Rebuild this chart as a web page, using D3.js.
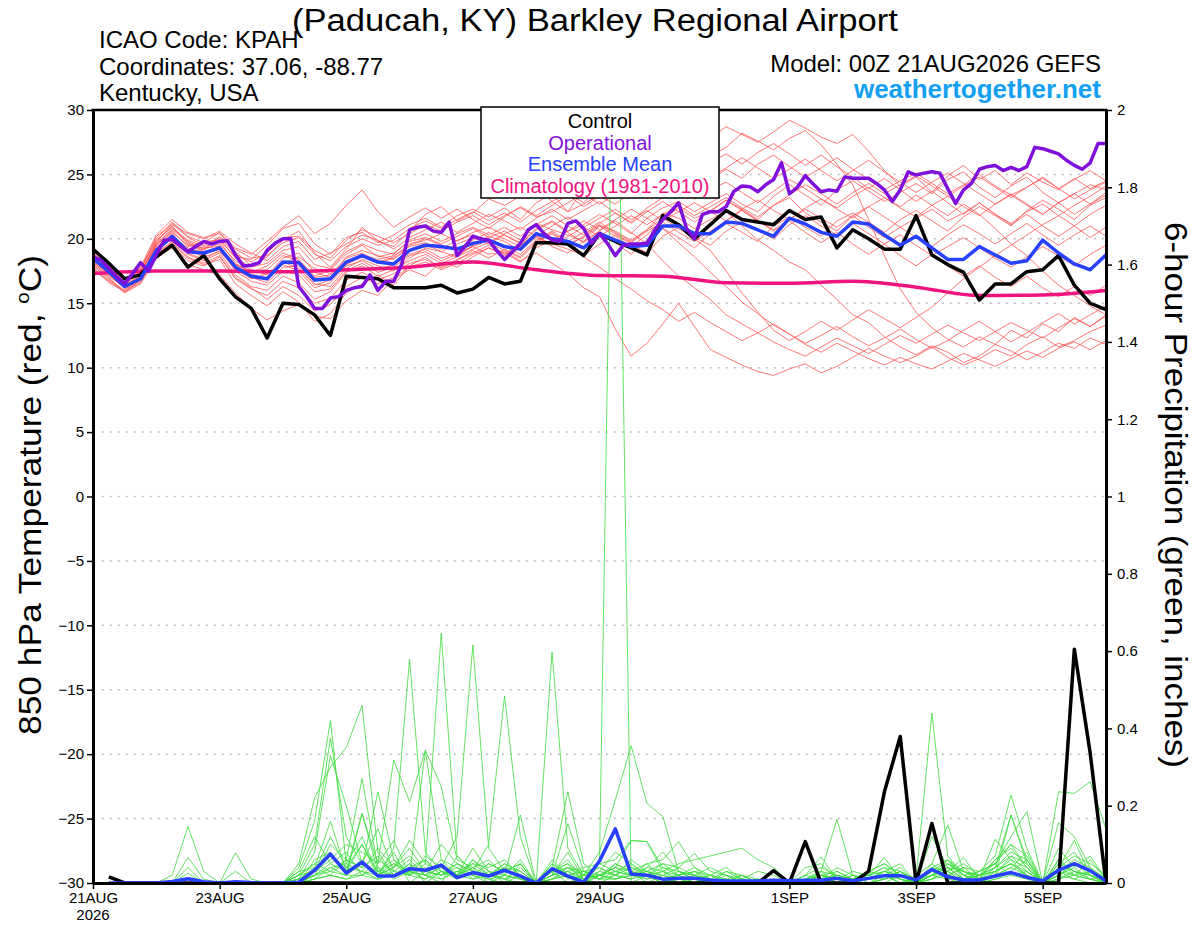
<!DOCTYPE html>
<html>
<head>
<meta charset="utf-8">
<script src="https://cdn.jsdelivr.net/npm/d3@7"></script>
<style>
body { margin: 0; background: #fff; }
text { font-family: "Liberation Sans", Arial, sans-serif; }
</style>
</head>
<body>
<svg id="chart" width="1200" height="927"></svg>
<script>
//Data
//Run start and forecast hours
var runStart = "2026-08-21T00:00:00Z";
var hours6 = d3.range(0, 385, 6);
var hours3 = d3.range(0, 385, 3);
var precipHours = d3.range(6, 385, 6);
var climHours = d3.range(0, 385, 24);

//Bottom axis ticks
var xTickDates = ["2026-08-21", "2026-08-23", "2026-08-25", "2026-08-27", "2026-08-29", "2026-09-01", "2026-09-03", "2026-09-05"];
var xTickLabels = ["21AUG", "23AUG", "25AUG", "27AUG", "29AUG", "1SEP", "3SEP", "5SEP"];
var tempTicks = [-30, -25, -20, -15, -10, -5, 0, 5, 10, 15, 20, 25, 30];
var gridTicks = [-25, -20, -15, -10, -5, 0, 5, 10, 15, 20, 25];
var precipTicks = [0, 0.2, 0.4, 0.6, 0.8, 1, 1.2, 1.4, 1.6, 1.8, 2];

//Control 850 hPa temperature, 6-hourly
var controlTemp = [
  19.2, 18.1, 16.9, 17.2, 18.6, 19.5, 17.8, 18.7, 16.9, 15.5, 14.6, 12.3, 15.0,
  14.9, 14.1, 12.5, 17.1, 17.0, 16.9, 16.2, 16.2, 16.2, 16.4, 15.8, 16.1, 17.0,
  16.5, 16.7, 19.7, 19.7, 19.6, 18.7, 20.4, 19.8, 19.3, 18.75, 21.8, 21.1, 20.0,
  21.1, 22.2, 21.5, 21.3, 21.1, 22.2, 21.5, 21.7, 19.3, 20.7, 20.0, 19.2, 19.2,
  21.8, 18.75, 18.0, 17.4, 15.25, 16.5, 16.5, 17.45, 17.6, 18.7, 16.4, 15.0, 14.5
];

//Operational 850 hPa temperature, 3-hourly
var operationalTemp = [
  18.6, 18.35, 17.7, 17.05, 16.5, 17.3, 18.15, 17.5, 18.75, 19.9, 19.95, 19.45, 19.0,
  19.4, 19.8, 19.6, 19.8, 19.85, 18.75, 17.9, 17.95, 18.15, 19.1, 19.65, 20.0, 20.0,
  16.3, 15.5, 14.6, 14.6, 15.4, 15.5, 16.0, 16.2, 16.3, 17.2, 16.0, 16.7, 16.7,
  18.0, 20.7, 20.9, 21.0, 20.6, 20.5, 21.3, 18.7, 19.4, 20.2, 20.0, 19.9, 19.1,
  18.4, 19.0, 19.65, 20.7, 21.1, 20.4, 19.9, 19.8, 21.2, 21.4, 20.8, 19.65, 20.4,
  19.65, 18.7, 19.5, 19.6, 19.6, 19.65, 20.7, 21.5, 22.1, 22.8, 20.8, 20.0, 21.9,
  22.1, 22.1, 22.5, 23.7, 24.1, 24.05, 23.65, 24.2, 24.6, 25.9, 23.5, 24.0, 24.9,
  24.25, 23.65, 23.8, 23.7, 24.8, 24.7, 24.7, 24.7, 24.3, 23.8, 22.9, 23.8, 25.2,
  24.95, 25.1, 25.2, 25.1, 23.9, 22.75, 23.8, 24.3, 25.4, 25.6, 25.7, 25.3, 25.55,
  25.3, 25.6, 27.1, 27.0, 26.8, 26.6, 26.1, 25.7, 25.4, 25.9, 27.4, 27.4
];

//Ensemble mean 850 hPa temperature, 6-hourly
var meanTemp = [
  18.5, 17.45, 16.3, 16.9, 19.1, 20.2, 19.0, 18.9, 19.3, 17.8, 17.1, 16.9, 18.2,
  18.15, 16.8, 16.9, 18.2, 18.7, 18.2, 18.05, 19.1, 19.5, 19.4, 19.2, 19.65, 19.9,
  19.4, 19.2, 20.4, 20.0, 19.8, 19.3, 20.4, 19.9, 19.4, 19.5, 21.0, 21.0, 20.4,
  20.4, 21.3, 21.2, 20.7, 20.2, 21.6, 21.15, 20.5, 20.2, 21.3, 21.15, 20.3, 19.5,
  20.2, 19.3, 18.4, 18.4, 19.4, 18.75, 18.1, 18.3, 19.9, 18.9, 18.05, 17.6, 18.75
];

//Climatology (1981-2010), daily
var climTemp = [17.3, 17.5, 17.5, 17.45, 17.6, 17.8, 18.2, 17.6, 17.15, 17.1, 16.6, 16.55, 16.7, 16.25, 15.6, 15.65, 16.0];

//Ensemble members 850 hPa temperature, 6-hourly
var tempMembers = [
  [18.2, 17.2, 16.2, 17.0, 19.5, 20.6, 19.4, 19.8, 19.9, 18.6, 18.4, 19.5, 20.8,
   21.2, 19.6, 18.8, 20.1, 20.5, 19.7, 20.3, 21.1, 21.6, 20.9, 21.8, 22.3, 21.7,
   22.4, 21.5, 22.8, 23.5, 22.1, 23.9, 24.6, 23.8, 25.2, 24.4, 26.1, 27.3, 26.5,
   27.8, 28.7, 28.1, 27.5, 28.3, 29.2, 28.6, 27.9, 27.4, 28.1, 26.8, 25.3, 24.1,
   24.8, 23.6, 24.9, 25.7, 24.6, 25.3, 24.2, 25.1, 24.4, 23.8, 24.7, 23.9, 24.5],
  [18.8, 17.6, 16.5, 17.3, 19.8, 21.0, 19.7, 19.1, 20.2, 19.0, 17.9, 18.6, 19.9,
   20.6, 18.9, 17.8, 19.2, 20.9, 19.8, 19.4, 20.6, 21.9, 22.5, 21.4, 22.0, 23.1,
   22.6, 23.3, 24.0, 22.9, 23.6, 22.8, 24.1, 25.3, 24.7, 26.0, 26.8, 25.9, 27.2,
   26.4, 27.1, 28.2, 27.6, 26.9, 27.8, 28.4, 27.3, 25.8, 24.2, 21.5, 18.7, 16.1,
   14.3, 13.1, 12.2, 11.6, 12.4, 11.8, 12.9, 12.3, 13.4, 12.8, 13.9, 13.2, 14.1],
  [17.9, 16.9, 15.9, 16.6, 18.7, 19.6, 18.5, 18.0, 18.4, 16.5, 15.6, 14.8, 15.9,
   15.1, 13.6, 14.2, 15.8, 16.5, 17.2, 16.4, 17.9, 18.6, 17.7, 18.3, 19.1, 18.5,
   19.2, 18.6, 19.8, 20.5, 19.6, 20.1, 21.0, 20.2, 19.4, 20.3, 21.5, 22.4, 21.6,
   22.1, 23.0, 22.3, 21.5, 22.6, 23.2, 22.0, 21.3, 20.6, 21.8, 22.5, 21.7, 20.9,
   21.6, 22.3, 21.4, 22.0, 22.8, 21.9, 21.2, 22.1, 22.7, 21.8, 21.0, 21.9, 22.6],
  [18.4, 17.3, 16.1, 16.8, 19.0, 20.1, 19.2, 18.7, 19.5, 17.6, 16.9, 17.3, 18.0,
   17.5, 16.2, 16.6, 17.9, 18.3, 17.6, 18.0, 18.8, 19.2, 18.5, 18.9, 19.4, 18.8,
   19.0, 18.3, 18.9, 18.1, 17.3, 16.2, 15.5, 13.0, 10.9, 11.9, 13.4, 15.0, 13.2,
   11.4, 10.8, 10.2, 9.7, 9.4, 9.9, 10.3, 9.6, 10.1, 10.8, 11.5, 10.9, 10.4,
   10.9, 11.6, 10.8, 10.2, 10.7, 11.4, 10.9, 11.8, 12.4, 11.6, 12.1, 12.8, 13.3],
  [19.1, 17.9, 16.7, 17.4, 19.6, 20.8, 19.9, 19.4, 19.8, 18.1, 17.4, 17.9, 18.9,
   18.4, 17.1, 17.6, 18.8, 19.5, 18.6, 18.9, 19.8, 20.1, 19.6, 20.2, 20.8, 20.1,
   20.6, 19.9, 21.2, 20.7, 20.3, 19.8, 21.0, 20.6, 19.9, 20.7, 22.0, 21.6, 20.8,
   21.5, 22.1, 21.0, 19.9, 19.1, 18.2, 17.6, 16.4, 15.3, 14.1, 13.5, 12.4, 11.6,
   11.0, 11.7, 11.2, 10.4, 10.9, 11.8, 11.3, 10.6, 11.2, 11.9, 11.5, 12.3, 11.8],
  [18.6, 17.5, 16.4, 17.1, 19.3, 20.4, 19.0, 19.2, 19.6, 18.3, 17.6, 17.2, 18.5,
   18.9, 17.4, 17.0, 18.6, 19.1, 18.7, 18.4, 19.5, 19.9, 20.4, 19.8, 20.5, 20.9,
   20.3, 19.7, 20.8, 21.4, 20.6, 21.1, 21.9, 21.2, 20.4, 21.6, 22.4, 22.9, 22.1,
   22.8, 23.5, 22.7, 22.1, 23.3, 24.2, 23.4, 22.6, 23.8, 24.5, 23.7, 22.9, 23.6,
   24.3, 23.5, 24.6, 25.2, 24.0, 23.2, 24.1, 24.8, 23.6, 22.8, 23.5, 24.2, 23.8],
  [18.0, 17.0, 15.8, 16.5, 18.5, 19.3, 18.0, 17.6, 17.2, 15.8, 14.6, 13.7, 14.4,
   14.9, 14.0, 13.8, 15.2, 16.0, 15.6, 16.9, 17.6, 17.1, 18.2, 17.8, 18.6, 19.3,
   18.7, 19.5, 20.2, 19.4, 18.9, 19.8, 20.6, 19.7, 18.8, 19.9, 20.8, 20.1, 19.3,
   20.4, 21.2, 20.5, 19.8, 21.0, 21.7, 20.9, 20.2, 21.4, 22.0, 21.3, 20.5, 21.5,
   22.2, 21.4, 20.6, 21.7, 22.5, 21.8, 21.0, 22.2, 23.0, 22.3, 21.5, 22.6, 23.2],
  [18.9, 17.7, 16.6, 17.5, 20.0, 21.3, 20.2, 19.7, 20.5, 19.3, 18.8, 19.8, 20.9,
   21.8, 20.4, 21.2, 22.6, 23.8, 22.1, 20.9, 21.7, 22.4, 21.6, 22.3, 21.5, 20.8,
   21.7, 22.5, 21.8, 22.6, 23.4, 22.5, 23.3, 22.7, 23.6, 24.5, 23.7, 24.4, 25.2,
   24.6, 25.4, 24.7, 25.8, 26.5, 25.6, 24.8, 25.5, 26.3, 25.4, 24.6, 23.8, 24.5,
   25.1, 24.3, 23.5, 24.2, 25.0, 24.1, 23.4, 24.0, 24.8, 23.9, 23.1, 23.8, 24.4],
  [17.7, 16.8, 16.0, 16.9, 18.9, 19.8, 18.8, 18.3, 18.9, 17.2, 16.3, 16.0, 17.1,
   16.6, 15.3, 15.9, 17.4, 17.9, 17.1, 17.6, 18.3, 18.8, 18.1, 18.6, 19.2, 19.7,
   19.1, 18.5, 19.7, 20.4, 19.5, 18.6, 17.8, 16.9, 16.1, 15.2, 14.5, 13.6, 14.3,
   13.5, 12.8, 12.1, 12.7, 13.4, 12.6, 11.9, 12.5, 13.2, 12.4, 11.7, 12.3, 13.0,
   12.2, 11.5, 12.1, 12.9, 13.6, 12.8, 12.0, 12.7, 13.5, 14.2, 13.4, 14.1, 14.8],
  [18.3, 17.4, 16.3, 17.2, 19.2, 20.3, 19.1, 18.6, 19.0, 17.9, 17.0, 16.6, 17.8,
   17.9, 16.5, 16.3, 17.7, 18.4, 17.9, 17.5, 18.5, 19.3, 19.0, 18.6, 19.5, 20.2,
   19.8, 19.1, 20.1, 19.6, 19.2, 18.7, 19.6, 20.3, 19.6, 18.9, 20.2, 20.9, 20.1,
   19.5, 20.6, 21.3, 20.7, 20.0, 21.1, 21.8, 21.0, 20.3, 21.2, 20.4, 19.6, 20.3,
   19.5, 18.7, 19.4, 20.1, 19.3, 18.5, 17.8, 18.6, 19.4, 18.7, 17.9, 18.8, 19.5],
  [19.3, 18.0, 16.8, 17.6, 20.2, 21.1, 20.4, 20.0, 20.6, 19.6, 18.9, 18.3, 19.4,
   19.8, 18.4, 18.9, 19.6, 20.3, 19.9, 19.2, 20.1, 20.7, 21.3, 20.5, 21.2, 21.9,
   21.4, 20.7, 21.6, 22.3, 21.5, 22.2, 22.9, 22.0, 21.3, 22.4, 23.2, 23.9, 23.1,
   23.8, 24.4, 23.6, 22.8, 23.7, 24.6, 23.9, 23.1, 22.4, 23.3, 24.0, 23.2, 22.5,
   23.4, 22.6, 21.8, 22.7, 21.9, 20.8, 19.6, 18.7, 17.5, 16.4, 15.6, 14.8, 14.1],
  [17.6, 16.7, 15.9, 16.7, 18.6, 19.5, 18.3, 17.9, 18.6, 16.9, 16.1, 15.6, 16.7,
   16.2, 15.0, 15.4, 16.8, 17.4, 16.8, 17.3, 18.1, 18.4, 17.8, 18.4, 18.9, 19.5,
   18.9, 18.2, 19.3, 19.9, 20.6, 21.4, 20.7, 21.5, 22.3, 21.6, 20.8, 19.7, 18.6,
   17.4, 16.3, 15.1, 14.2, 13.3, 12.6, 11.8, 11.2, 11.9, 11.3, 10.7, 10.2, 10.8,
   10.3, 9.9, 10.5, 11.1, 10.6, 10.1, 10.7, 11.3, 10.8, 11.5, 12.0, 11.4, 12.1],
  [18.7, 17.8, 16.9, 17.7, 19.9, 20.9, 19.6, 19.0, 19.3, 18.0, 17.3, 16.8, 18.1,
   18.6, 17.7, 17.3, 18.2, 18.8, 18.4, 18.7, 19.4, 19.7, 19.2, 19.9, 20.3, 19.7,
   20.4, 20.9, 20.2, 21.0, 21.7, 20.9, 21.6, 22.3, 21.5, 22.2, 21.4, 22.1, 22.8,
   22.1, 21.4, 22.3, 23.0, 22.2, 21.5, 22.4, 23.1, 22.3, 21.6, 22.5, 23.2, 22.4,
   21.7, 22.6, 23.3, 22.5, 21.8, 22.7, 23.4, 22.6, 21.9, 22.8, 23.5, 22.7, 23.4],
  [18.1, 17.1, 16.2, 16.9, 19.1, 20.0, 18.9, 18.4, 19.1, 17.5, 16.7, 16.4, 17.5,
   17.2, 15.9, 16.1, 17.5, 18.1, 17.4, 17.8, 18.7, 19.0, 18.3, 18.8, 19.4, 19.9,
   19.4, 18.8, 19.9, 20.6, 19.8, 20.5, 21.3, 20.5, 19.8, 20.7, 21.6, 20.8, 20.0,
   19.1, 17.5, 15.8, 14.3, 12.9, 12.1, 12.8, 13.6, 12.9, 13.7, 14.5, 13.8, 13.1,
   13.9, 14.7, 15.8, 16.9, 17.8, 18.7, 19.5, 20.3, 21.1, 21.8, 22.6, 23.3, 24.1],
  [19.0, 17.8, 16.6, 17.3, 19.7, 21.2, 20.1, 19.5, 20.1, 18.8, 18.2, 18.9, 20.1,
   20.2, 19.1, 18.5, 19.9, 20.7, 20.2, 19.7, 20.4, 21.1, 20.6, 21.3, 21.8, 21.1,
   21.8, 22.4, 21.7, 22.1, 22.8, 23.5, 22.7, 23.4, 24.1, 23.3, 24.0, 24.7, 24.0,
   24.8, 25.5, 26.3, 25.5, 24.7, 25.4, 26.2, 25.3, 24.5, 25.3, 26.1, 25.2, 24.4,
   23.6, 24.4, 25.1, 24.3, 23.5, 22.7, 23.5, 22.7, 21.9, 22.8, 21.9, 22.7, 23.6],
  [18.5, 17.4, 16.4, 17.1, 19.4, 20.2, 19.3, 18.8, 19.2, 17.7, 17.0, 16.9, 18.2,
   17.7, 16.4, 16.8, 18.0, 18.6, 18.1, 18.5, 19.2, 19.6, 19.0, 19.6, 20.1, 19.6,
   20.3, 19.6, 20.7, 21.3, 20.5, 19.7, 20.6, 21.4, 20.5, 19.6, 18.3, 17.1, 16.2,
   15.3, 14.1, 13.4, 12.7, 12.0, 11.4, 10.9, 11.6, 12.3, 11.7, 11.1, 11.8, 12.5,
   11.9, 12.6, 13.3, 12.7, 12.1, 12.8, 13.5, 12.9, 12.3, 13.1, 13.8, 13.2, 14.0],
  [18.2, 17.3, 16.6, 17.3, 19.5, 20.5, 19.5, 19.3, 19.4, 18.0, 17.5, 17.6, 18.7,
   18.3, 17.0, 17.2, 18.5, 18.9, 18.2, 18.6, 19.6, 20.0, 19.5, 19.1, 19.9, 20.5,
   20.0, 19.4, 20.5, 19.9, 19.5, 20.2, 21.1, 20.4, 19.7, 20.6, 21.3, 20.5, 19.8,
   20.6, 21.4, 22.2, 21.4, 20.7, 21.5, 22.3, 21.6, 20.9, 21.8, 20.9, 20.1, 20.9,
   20.1, 19.4, 20.3, 21.1, 20.4, 19.6, 20.4, 21.2, 20.3, 19.5, 20.3, 21.0, 20.2],
  [17.8, 16.6, 15.9, 16.8, 18.8, 19.7, 18.6, 18.1, 18.7, 17.0, 16.2, 15.3, 16.3,
   15.6, 14.4, 14.9, 16.3, 17.0, 16.5, 17.0, 17.8, 18.2, 17.6, 18.1, 18.8, 19.3,
   18.8, 19.6, 20.3, 19.5, 20.2, 20.9, 20.2, 21.0, 21.8, 21.1, 21.9, 22.6, 21.8,
   22.5, 23.2, 22.4, 21.7, 22.6, 23.4, 24.2, 23.5, 22.7, 23.6, 24.3, 23.5, 24.2,
   24.9, 24.1, 23.3, 24.1, 24.8, 24.0, 23.2, 24.0, 24.7, 23.9, 24.6, 25.3, 24.5],
  [18.9, 17.6, 16.5, 17.4, 19.6, 20.7, 19.8, 19.2, 20.0, 18.5, 17.8, 18.1, 19.1,
   19.4, 18.0, 17.7, 19.0, 19.6, 19.1, 18.8, 19.9, 20.4, 19.8, 20.4, 20.9, 20.3,
   20.9, 20.2, 21.1, 21.8, 21.0, 20.3, 21.2, 22.0, 21.2, 22.1, 22.9, 22.1, 21.3,
   22.2, 23.0, 22.2, 21.4, 20.6, 21.4, 20.5, 19.7, 20.5, 19.6, 18.8, 19.6, 18.7,
   17.9, 18.8, 17.9, 17.1, 17.9, 17.0, 16.3, 17.1, 16.2, 15.5, 16.3, 15.6, 16.4],
  [19.2, 18.1, 16.9, 17.8, 20.3, 21.5, 20.5, 20.1, 20.4, 19.2, 18.5, 18.7, 19.7,
   20.1, 18.8, 18.3, 19.4, 20.0, 19.5, 19.9, 20.8, 21.4, 20.8, 21.5, 22.1, 21.4,
   22.0, 21.3, 22.2, 22.9, 22.1, 22.7, 23.4, 24.3, 23.5, 24.2, 25.0, 24.2, 25.1,
   25.9, 26.6, 25.8, 26.7, 27.4, 26.6, 25.7, 26.5, 25.6, 24.8, 23.9, 24.7, 23.8,
   22.9, 23.7, 22.8, 21.9, 22.8, 21.9, 21.1, 21.9, 21.0, 20.2, 21.0, 20.1, 20.9]
];

//Control 6-hour precipitation (inches), from hour 6
var controlPrecip = [
  0.016, 0, 0, 0, 0, 0, 0, 0, 0, 0, 0, 0, 0, 0, 0, 0,
  0, 0, 0, 0, 0, 0, 0, 0, 0, 0, 0, 0, 0, 0, 0, 0,
  0, 0, 0, 0, 0, 0, 0, 0, 0, 0, 0.032, 0, 0.107, 0, 0, 0,
  0.03, 0.236, 0.379, 0, 0.154, 0, 0, 0, 0, 0, 0, 0, 0, 0.605, 0.336, 0
];

//Ensemble mean 6-hour precipitation (inches), from hour 6
var meanPrecip = [
  0, 0, 0, 0, 0.004, 0.011, 0.003, 0, 0.003, 0.001, 0, 0, 0.002, 0.033, 0.075, 0.026,
  0.054, 0.018, 0.018, 0.037, 0.033, 0.046, 0.014, 0.027, 0.018, 0.033, 0.018, 0, 0.037, 0.018, 0.002, 0.057,
  0.14, 0.023, 0.02, 0.01, 0.012, 0.012, 0.008, 0.005, 0.005, 0.005, 0.007, 0.006, 0.007, 0.007, 0.012, 0.006,
  0.012, 0.019, 0.019, 0.008, 0.035, 0.016, 0.008, 0.008, 0.018, 0.027, 0.015, 0.005, 0.033, 0.05, 0.032, 0.005
];

//Ensemble members 6-hour precipitation (inches), from hour 6
var precipMembers = [
  [0, 0, 0, 0, 0.02, 0.146, 0.03, 0, 0, 0, 0, 0, 0.04, 0.16, 0.42, 0.05,
   0.12, 0.02, 0.08, 0, 0.03, 0.1, 0.05, 0.02, 0, 0.04, 0.01, 0, 0.06, 0.02, 0, 0.03,
   0.08, 0.05, 0.02, 0, 0.01, 0, 0, 0.03, 0.01, 0, 0, 0, 0.02, 0.068, 0.01, 0,
   0, 0.02, 0, 0, 0.05, 0.02, 0, 0.01, 0.04, 0.07, 0.03, 0, 0.02, 0.05, 0.03, 0],
  [0, 0, 0, 0, 0, 0.066, 0.01, 0, 0, 0, 0, 0, 0.02, 0.1, 0.375, 0.12,
   0.05, 0.14, 0.03, 0.06, 0.02, 0, 0.07, 0.03, 0.01, 0, 0.05, 0, 0.02, 0.08, 0.01, 0.02,
   0.04, 0.11, 0.107, 0.03, 0, 0.02, 0, 0, 0, 0.01, 0, 0, 0, 0.03, 0.165, 0.02,
   0, 0.01, 0.03, 0, 0.02, 0.06, 0.01, 0, 0.02, 0.176, 0.05, 0, 0.04, 0.11, 0.02, 0],
  [0, 0, 0, 0, 0, 0.04, 0, 0, 0, 0, 0, 0, 0.05, 0.22, 0.3, 0.35,
   0.46, 0.08, 0.02, 0.05, 0, 0.03, 0.01, 0.06, 0.02, 0.01, 0, 0, 0.03, 0, 0.02, 0.01,
   0.02, 0.01, 0.04, 0.08, 0.03, 0.01, 0, 0, 0, 0, 0, 0.01, 0, 0, 0.02, 0.01,
   0.02, 0.066, 0.01, 0, 0.04, 0.03, 0, 0, 0.01, 0.03, 0.06, 0, 0.01, 0.02, 0.06, 0.01],
  [0, 0, 0, 0, 0, 0.025, 0, 0, 0, 0, 0, 0, 0.01, 0.04, 0.16, 0.03,
   0.1, 0.02, 0.09, 0.579, 0.08, 0.03, 0.02, 0.04, 0, 0.02, 0.06, 0, 0.01, 0.03, 0, 0.02,
   0.01, 0.03, 0, 0.02, 0.04, 0.02, 0.01, 0, 0, 0, 0, 0, 0.01, 0.03, 0, 0,
   0, 0.01, 0.03, 0.01, 0.44, 0.07, 0.02, 0, 0.03, 0.05, 0.02, 0, 0.03, 0.01, 0, 0],
  [0, 0, 0, 0, 0, 0, 0, 0, 0.078, 0.01, 0, 0, 0, 0.06, 0.08, 0.02,
   0.18, 0.05, 0.11, 0.02, 0.343, 0.06, 0.02, 0.09, 0.03, 0, 0.02, 0, 0.04, 0.01, 0.02, 0.05,
   0.03, 0.02, 0.05, 0.01, 0, 0, 0.02, 0.04, 0.01, 0, 0, 0, 0, 0.01, 0.04, 0.02,
   0.01, 0.03, 0.05, 0, 0.12, 0.04, 0.01, 0.02, 0.06, 0.1, 0.04, 0, 0.05, 0.08, 0.02, 0],
  [0, 0, 0, 0, 0, 0.01, 0, 0, 0.03, 0, 0, 0, 0.02, 0.03, 0.12, 0.04,
   0.03, 0.09, 0.04, 0.11, 0.05, 0.646, 0.07, 0.03, 0.02, 0.05, 0.02, 0, 0.03, 0.06, 0.01, 0,
   0.02, 0.04, 0.02, 0.05, 0.02, 0, 0.01, 0, 0.02, 0, 0, 0, 0.01, 0, 0.03, 0.01,
   0.03, 0.02, 0, 0.02, 0.05, 0.15, 0.03, 0.01, 0.02, 0.04, 0.08, 0, 0.02, 0.04, 0.07, 0.01],
  [0, 0, 0, 0, 0, 0.01, 0, 0, 0, 0, 0, 0, 0.03, 0.12, 0.05, 0.08,
   0.02, 0.06, 0.03, 0.02, 0.07, 0.04, 0.12, 0.616, 0.09, 0.03, 0.05, 0, 0.02, 0.04, 0.01, 0.02,
   0.05, 0.03, 0.01, 0.02, 0.01, 0.03, 0, 0, 0, 0.01, 0, 0, 0, 0.02, 0.01, 0,
   0, 0, 0.02, 0.01, 0.03, 0.02, 0.04, 0.01, 0.113, 0.06, 0.02, 0, 0.06, 0.03, 0.01, 0.02],
  [0, 0, 0, 0, 0, 0, 0, 0, 0, 0, 0, 0, 0.01, 0.08, 0.33, 0.2,
   0.05, 0.02, 0.04, 0.09, 0.03, 0.02, 0.05, 0.03, 0.1, 0.484, 0.12, 0, 0.05, 0.02, 0.03, 0.01,
   0.01, 0.02, 0.03, 0.01, 0.02, 0.04, 0.01, 0, 0, 0, 0, 0, 0.02, 0.01, 0, 0.02,
   0.01, 0.02, 0, 0.01, 0.02, 0.05, 0.02, 0.03, 0.07, 0.228, 0.09, 0, 0.03, 0.06, 0.04, 0.01],
  [0, 0, 0, 0, 0, 0, 0, 0, 0, 0, 0, 0, 0, 0.02, 0.1, 0.06,
   0.27, 0.04, 0.02, 0.03, 0.01, 0.05, 0.02, 0.04, 0.06, 0.02, 0.176, 0, 0.03, 0.05, 0, 0.02,
   0.03, 0.05, 0.02, 0, 0.03, 0.01, 0.02, 0, 0.01, 0, 0, 0, 0, 0.01, 0.02, 0,
   0, 0.01, 0.02, 0, 0.01, 0.03, 0.05, 0.02, 0.04, 0.176, 0.06, 0, 0.02, 0.01, 0.03, 0],
  [0, 0, 0, 0, 0, 0, 0, 0, 0, 0, 0, 0, 0.02, 0.05, 0.07, 0.03,
   0.18, 0.03, 0.05, 0.02, 0.04, 0.01, 0.03, 0.02, 0.05, 0.03, 0.02, 0, 0.598, 0.09, 0.02, 0.04,
   0.02, 0.06, 0.03, 0.02, 0, 0.01, 0, 0.02, 0, 0, 0, 0, 0, 0, 0.01, 0.03,
   0.02, 0.04, 0.01, 0, 0.03, 0.02, 0.01, 0.03, 0.05, 0.12, 0.185, 0, 0.04, 0.07, 0.05, 0.02],
  [0, 0, 0, 0, 0, 0, 0, 0, 0, 0, 0, 0, 0.03, 0.04, 0.02, 0.06,
   0.04, 0.236, 0.06, 0.03, 0.02, 0.04, 0.01, 0.03, 0.02, 0.05, 0.03, 0, 0.04, 0.236, 0.05, 0.02,
   0.04, 0.02, 0.01, 0.03, 0.02, 0, 0.01, 0.03, 0.02, 0, 0, 0, 0.01, 0.02, 0, 0,
   0.03, 0.05, 0.02, 0, 0.02, 0.04, 0.03, 0.01, 0.06, 0.09, 0.04, 0, 0.236, 0.232, 0.262, 0.14],
  [0, 0, 0, 0, 0, 0, 0, 0, 0, 0, 0, 0, 0.01, 0.03, 0.06, 0.1,
   0.08, 0.05, 0.318, 0.21, 0.343, 0.25, 0.06, 0.04, 0.02, 0.03, 0.05, 0, 0.02, 0.153, 0.03, 0.01,
   0.05, 0.03, 0.02, 0.04, 0.03, 0.02, 0.04, 0.02, 0, 0.01, 0, 0, 0, 0.01, 0.02, 0.01,
   0.02, 0.03, 0.01, 0, 0.01, 0.05, 0.02, 0.01, 0.03, 0.05, 0.03, 0, 0.156, 0.12, 0.04, 0.01],
  [0, 0, 0, 0, 0, 0, 0, 0, 0, 0, 0, 0, 0, 0.01, 0.02, 0.01,
   0.03, 0.01, 0.02, 0.05, 0.02, 0.01, 0.03, 0.02, 0.01, 0.02, 0.01, 0, 0.01, 0.02, 0, 0.05,
   2.6, 0, 0.02, 0.01, 0, 0, 0, 0, 0, 0, 0, 0, 0, 0, 0, 0,
   0, 0, 0, 0, 0.02, 0.01, 0, 0, 0.01, 0.02, 0.01, 0, 0.01, 0.03, 0.02, 0],
  [0, 0, 0, 0, 0, 0, 0, 0, 0, 0, 0, 0, 0, 0.02, 0.05, 0.03,
   0.06, 0.02, 0.04, 0.07, 0.03, 0.05, 0.02, 0.06, 0.03, 0.01, 0.04, 0, 0.03, 0.05, 0.02, 0.08,
   0.215, 0.355, 0.206, 0.172, 0.03, 0.02, 0, 0.01, 0, 0, 0, 0, 0, 0.02, 0.01, 0,
   0.01, 0.02, 0.04, 0, 0.03, 0.06, 0.02, 0, 0.02, 0.04, 0.02, 0, 0.03, 0.05, 0.02, 0.01],
  [0, 0, 0, 0, 0, 0, 0, 0, 0, 0, 0, 0, 0, 0.01, 0.04, 0.02,
   0.02, 0.04, 0.01, 0.03, 0.06, 0.02, 0.04, 0.01, 0.03, 0.02, 0.01, 0, 0.02, 0.03, 0.04, 0.05,
   0.06, 0.11, 0.107, 0.04, 0.02, 0.03, 0.01, 0, 0.02, 0, 0.01, 0, 0, 0.01, 0, 0.02,
   0.01, 0.03, 0.02, 0, 0.04, 0.03, 0.066, 0.01, 0.02, 0.07, 0.05, 0, 0.06, 0.02, 0.01, 0],
  [0, 0, 0, 0, 0, 0, 0, 0, 0, 0, 0, 0, 0, 0.03, 0.07, 0.04,
   0.1, 0.03, 0.06, 0.02, 0.05, 0.03, 0.02, 0.05, 0.04, 0.06, 0.02, 0, 0.01, 0.04, 0.03, 0.02,
   0.04, 0.03, 0.05, 0.06, 0.107, 0.04, 0.02, 0.01, 0, 0, 0.01, 0, 0, 0.02, 0.03, 0.01,
   0.02, 0.01, 0.03, 0, 0.02, 0.04, 0.01, 0.02, 0.03, 0.06, 0.04, 0, 0.05, 0.03, 0.02, 0],
  [0, 0, 0, 0, 0, 0, 0, 0, 0, 0, 0, 0, 0.02, 0.05, 0.03, 0.06,
   0.04, 0.07, 0.02, 0.04, 0.06, 0.02, 0.03, 0.05, 0.02, 0.04, 0.03, 0, 0.05, 0.02, 0.01, 0.03,
   0.02, 0.04, 0.03, 0.05, 0.04, 0.077, 0.03, 0.02, 0.01, 0, 0, 0, 0.04, 0.05, 0.01, 0,
   0.01, 0.03, 0.02, 0, 0.01, 0.02, 0.04, 0.03, 0.05, 0.02, 0.03, 0, 0.09, 0.04, 0.01, 0],
  [0, 0, 0, 0, 0, 0, 0, 0, 0, 0, 0, 0, 0, 0.02, 0.04, 0.05,
   0.03, 0.02, 0.05, 0.03, 0.02, 0.06, 0.04, 0.02, 0.05, 0.03, 0.02, 0, 0.03, 0.04, 0.02, 0.01,
   0.03, 0.02, 0.04, 0.03, 0.05, 0.06, 0.07, 0.08, 0.09, 0.06, 0.04, 0, 0.01, 0.03, 0.02, 0.01,
   0.02, 0.04, 0.03, 0, 0.02, 0.05, 0.03, 0.02, 0.04, 0.08, 0.06, 0, 0.03, 0.02, 0.01, 0],
  [0, 0, 0, 0, 0, 0, 0, 0, 0, 0, 0, 0, 0.01, 0.02, 0.03, 0.02,
   0.05, 0.03, 0.02, 0.04, 0.03, 0.02, 0.05, 0.03, 0.02, 0.04, 0.01, 0, 0.02, 0.03, 0.01, 0.02,
   0.01, 0.02, 0.03, 0.01, 0.02, 0.03, 0.02, 0.01, 0.02, 0.01, 0, 0, 0.02, 0.04, 0.02, 0.01,
   0.03, 0.05, 0.02, 0, 0.04, 0.06, 0.03, 0.02, 0.05, 0.1, 0.07, 0, 0.02, 0.05, 0.03, 0],
  [0, 0, 0, 0, 0, 0, 0, 0, 0, 0, 0, 0, 0, 0.01, 0.02, 0.01,
   0.02, 0.01, 0.03, 0.02, 0.01, 0.03, 0.02, 0.01, 0.02, 0.01, 0.02, 0, 0.01, 0.02, 0.03, 0.04,
   0.02, 0.01, 0.02, 0.03, 0.01, 0.02, 0.01, 0, 0.01, 0.03, 0.02, 0, 0.01, 0.02, 0.01, 0,
   0.01, 0.02, 0.01, 0, 0.02, 0.03, 0.01, 0.02, 0.03, 0.05, 0.02, 0, 0.04, 0.02, 0.03, 0]
];

//Header texts
var titleText = "(Paducah, KY) Barkley Regional Airport";
var infoLines = ["ICAO Code: KPAH", "Coordinates: 37.06, -88.77", "Kentucky, USA"];
var modelText = "Model: 00Z 21AUG2026 GEFS";
var siteText = "weathertogether.net";
var legendItems = ["Control", "Operational", "Ensemble Mean", "Climatology (1981-2010)"];

//Parameters
var plotLeft = 93, plotRight = 1106, plotTop = 110, plotBottom = 883;

var memberTempColor = "#ff5555";
var memberPrecipColor = "#3cdc3c";
var controlColor = "black";
var operationalColor = "#7f10dc";
var meanColor = "#2840ff";
var climColor = "#f01480";
var siteColor = "#14a0f0";
var gridColor = "#aaaaaa";
var thickWidth = 3.5;
var thinWidth = 0.8;
var fontFamily = "'Liberation Sans', Arial, sans-serif";

var svg = d3.select("#chart");

//Scales
var t0 = new Date(runStart);
function toDate(hour) {
    return new Date(t0.getTime() + hour * 3600 * 1000);
}

var x = d3.scaleUtc()
    .domain([toDate(0), toDate(384)])
    .range([plotLeft, plotRight]);

var yTemp = d3.scaleLinear()
    .domain([-30, 30])
    .range([plotBottom, plotTop]);

var yPrecip = d3.scaleLinear()
    .domain([0, 2])
    .range([plotBottom, plotTop]);

//Clip for the plot area
svg.append("defs").append("clipPath")
    .attr("id", "plotClip")
    .append("rect")
    .attr("x", plotLeft)
    .attr("y", plotTop)
    .attr("width", plotRight - plotLeft)
    .attr("height", plotBottom - plotTop);

//Dotted gridlines
svg.append("g").selectAll("line")
    .data(gridTicks)
    .join("line")
    .attr("x1", plotLeft + 9)
    .attr("x2", plotRight)
    .attr("y1", d => yTemp(d))
    .attr("y2", d => yTemp(d))
    .attr("stroke", gridColor)
    .attr("stroke-width", 1.5)
    .attr("stroke-dasharray", "1.5,6.5");

//Line generators
function tempLine(hours) {
    return d3.line()
        .x((d, i) => x(toDate(hours[i])))
        .y(d => yTemp(d));
}
function precipLine(hours) {
    return d3.line()
        .x((d, i) => x(toDate(hours[i])))
        .y(d => yPrecip(d));
}

var plot = svg.append("g").attr("clip-path", "url(#plotClip)");

//Ensemble members
plot.append("g").selectAll("path")
    .data(tempMembers)
    .join("path")
    .attr("d", d => tempLine(hours6)(d))
    .attr("fill", "none")
    .attr("stroke", memberTempColor)
    .attr("stroke-width", thinWidth);

plot.append("g").selectAll("path")
    .data(precipMembers)
    .join("path")
    .attr("d", d => precipLine(precipHours)(d))
    .attr("fill", "none")
    .attr("stroke", memberPrecipColor)
    .attr("stroke-width", thinWidth);

//Climatology
plot.append("path")
    .attr("d", tempLine(climHours).curve(d3.curveMonotoneX)(climTemp))
    .attr("fill", "none")
    .attr("stroke", climColor)
    .attr("stroke-width", thickWidth);

//Control
plot.append("path")
    .attr("d", tempLine(hours6)(controlTemp))
    .attr("fill", "none")
    .attr("stroke", controlColor)
    .attr("stroke-width", thickWidth)
    .attr("stroke-linejoin", "round");

plot.append("path")
    .attr("d", precipLine(precipHours)(controlPrecip))
    .attr("fill", "none")
    .attr("stroke", controlColor)
    .attr("stroke-width", thickWidth)
    .attr("stroke-linejoin", "round");

//Ensemble mean
plot.append("path")
    .attr("d", tempLine(hours6)(meanTemp))
    .attr("fill", "none")
    .attr("stroke", meanColor)
    .attr("stroke-width", thickWidth)
    .attr("stroke-linejoin", "round");

plot.append("path")
    .attr("d", precipLine(precipHours)(meanPrecip))
    .attr("fill", "none")
    .attr("stroke", meanColor)
    .attr("stroke-width", thickWidth)
    .attr("stroke-linejoin", "round");

//Operational
plot.append("path")
    .attr("d", tempLine(hours3)(operationalTemp))
    .attr("fill", "none")
    .attr("stroke", operationalColor)
    .attr("stroke-width", thickWidth)
    .attr("stroke-linejoin", "round");

//Axes
function styleAxis(g, size) {
    g.select(".domain").attr("stroke", "black").attr("stroke-width", 3);
    g.selectAll(".tick line").attr("stroke", "black").attr("stroke-width", 1.5);
    g.selectAll(".tick text")
        .attr("fill", "black")
        .style("font-family", fontFamily)
        .style("font-size", size + "px");
}

var leftAxis = svg.append("g")
    .attr("transform", "translate(" + plotLeft + ",0)")
    .call(d3.axisLeft(yTemp).tickValues(tempTicks).tickSize(6).tickSizeOuter(0).tickPadding(3));
styleAxis(leftAxis, 15);

var rightAxis = svg.append("g")
    .attr("transform", "translate(" + plotRight + ",0)")
    .call(d3.axisRight(yPrecip).tickValues(precipTicks).tickFormat(d3.format("~g")).tickSize(6).tickSizeOuter(0).tickPadding(5));
styleAxis(rightAxis, 15);

var bottomAxis = svg.append("g")
    .attr("transform", "translate(0," + plotBottom + ")")
    .call(d3.axisBottom(x)
        .tickValues(xTickDates.map(d => new Date(d + "T00:00:00Z")))
        .tickFormat((d, i) => xTickLabels[i])
        .tickSize(6).tickSizeOuter(0).tickPadding(3));
styleAxis(bottomAxis, 15);

//Year under the first date
svg.append("text")
    .attr("x", x(new Date(xTickDates[0] + "T00:00:00Z")))
    .attr("y", 920)
    .attr("text-anchor", "middle")
    .style("font-size", "15px")
    .text("2026");

//Top frame line
svg.append("line")
    .attr("x1", plotLeft - 1.5)
    .attr("x2", plotRight + 1.5)
    .attr("y1", plotTop)
    .attr("y2", plotTop)
    .attr("stroke", "black")
    .attr("stroke-width", 2.5);

//Legend
var legend = svg.append("g");
legend.append("rect")
    .attr("x", 481)
    .attr("y", 107)
    .attr("width", 238)
    .attr("height", 91)
    .attr("fill", "white")
    .attr("stroke", "black")
    .attr("stroke-width", 1.5);

var legendColors = [controlColor, operationalColor, meanColor, climColor];
legend.selectAll("text")
    .data(legendItems)
    .join("text")
    .attr("x", 600)
    .attr("y", (d, i) => 128 + i * 21.7)
    .attr("text-anchor", "middle")
    .attr("fill", (d, i) => legendColors[i])
    .style("font-size", "20px")
    .text(d => d);

//Header
svg.append("text")
    .attr("x", 595)
    .attr("y", 31)
    .attr("text-anchor", "middle")
    .attr("textLength", 606)
    .attr("lengthAdjust", "spacingAndGlyphs")
    .style("font-size", "31px")
    .text(titleText);

svg.append("g").selectAll("text")
    .data(infoLines)
    .join("text")
    .attr("x", 99)
    .attr("y", (d, i) => 48 + i * 26.5)
    .style("font-size", "24px")
    .text(d => d);

svg.append("text")
    .attr("x", 1101)
    .attr("y", 72)
    .attr("text-anchor", "end")
    .style("font-size", "24px")
    .text(modelText);

svg.append("text")
    .attr("x", 1101)
    .attr("y", 98)
    .attr("text-anchor", "end")
    .attr("fill", siteColor)
    .style("font-size", "26px")
    .style("font-weight", "bold")
    .text(siteText);

//Axis titles
var leftTitle = svg.append("text")
    .attr("transform", "translate(41,495) rotate(-90)")
    .attr("text-anchor", "middle")
    .attr("textLength", 480)
    .attr("lengthAdjust", "spacingAndGlyphs")
    .style("font-size", "31px");
leftTitle.append("tspan").text("850 hPa Temperature (red, ");
leftTitle.append("tspan").attr("dy", -12).style("font-size", "18px").text("o");
leftTitle.append("tspan").attr("dy", 12).text("C)");

svg.append("text")
    .attr("transform", "translate(1165,495) rotate(90)")
    .attr("text-anchor", "middle")
    .attr("textLength", 546)
    .attr("lengthAdjust", "spacingAndGlyphs")
    .style("font-size", "31px")
    .text("6-hour Precipitation (green, inches)");
</script>
</body>
</html>
